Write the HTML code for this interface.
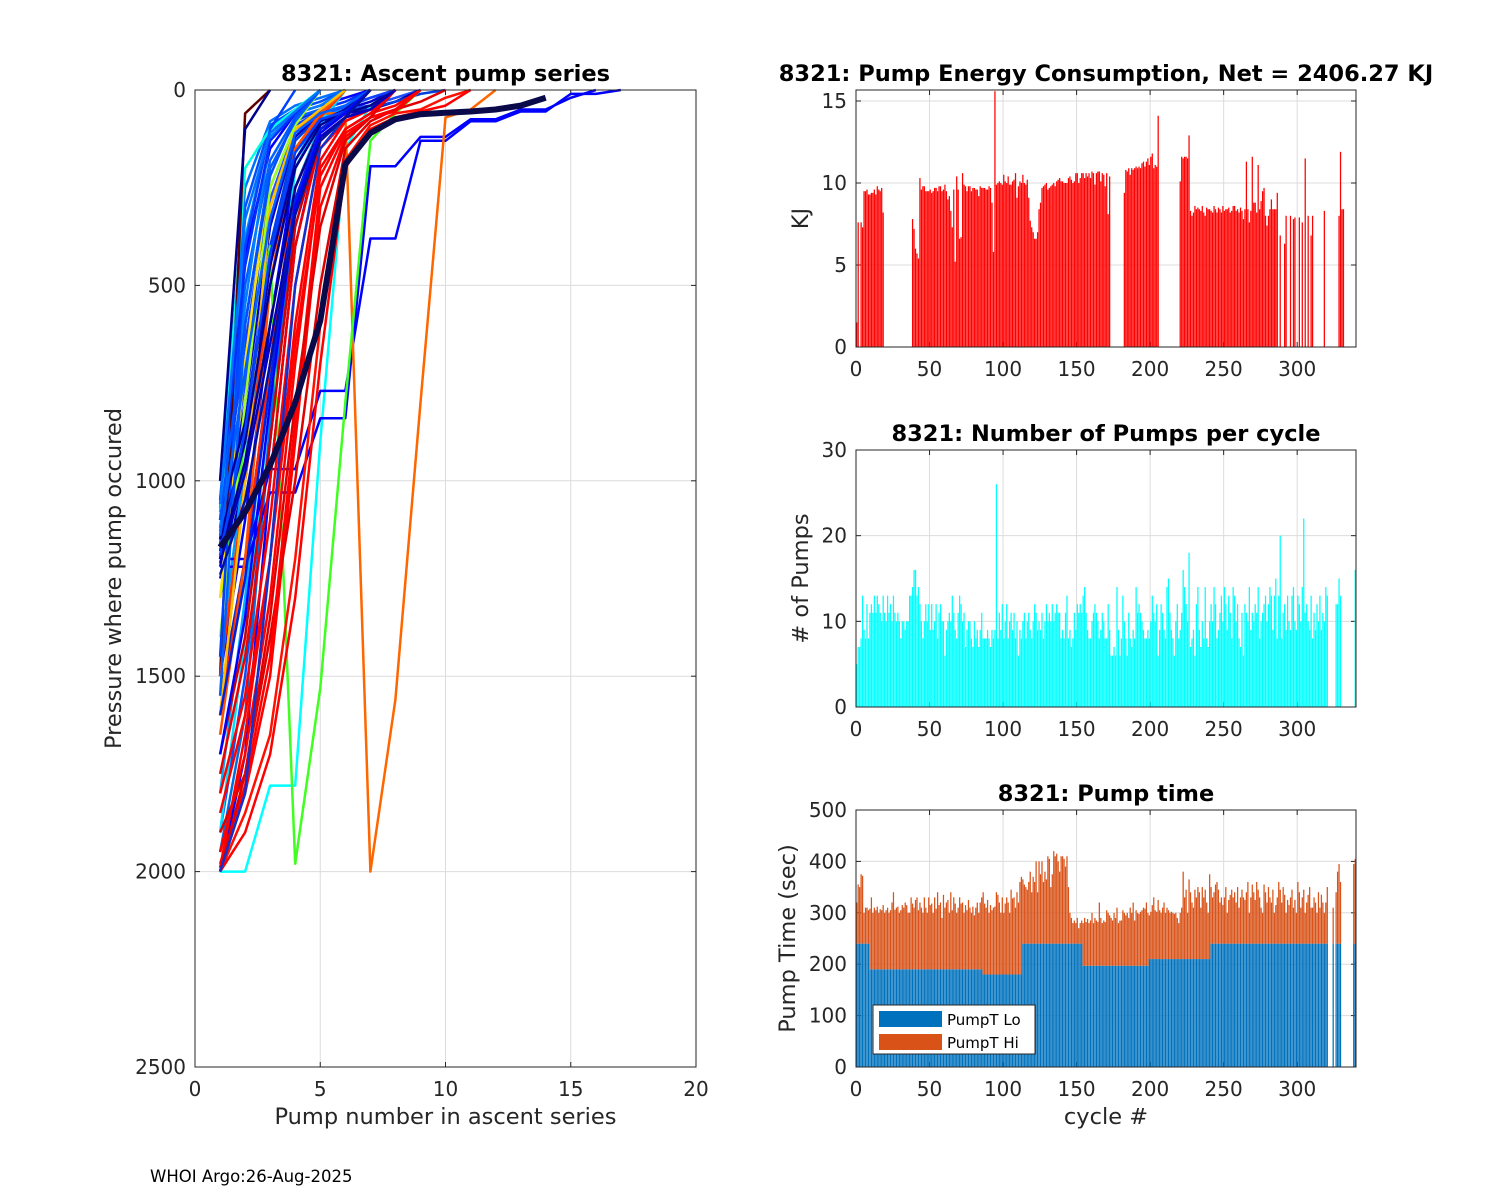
<!DOCTYPE html>
<html><head><meta charset="utf-8"><style>
html,body{margin:0;padding:0;background:#fff;}
svg{display:block;font-family:"DejaVu Sans","Liberation Sans",sans-serif;}
</style></head><body>
<svg id="fig" width="1500" height="1200" viewBox="0 0 1500 1200" xmlns="http://www.w3.org/2000/svg">
<rect width="1500" height="1200" fill="#fff"/>
<g id="ascent"></g>
<g id="energy"></g>
<g id="pumps"></g>
<g id="ptime"></g>
<text x="150" y="1182" font-size="16.5" fill="#000">WHOI Argo:26-Aug-2025</text>
</svg>
<script>
const profiles = [
[1100,420,150,60,40,20,0],[1150,600,200,80,50,30,0],[1050,300,90,50,30,0],[1200,700,300,100,60,40,20,0],
[1000,250,80,40,20,0],[1180,800,350,120,60,50,30,0],[1120,650,250,90,55,45,20,0],[1080,500,180,70,50,0],
[1220,900,450,150,70,50,40,0],[1160,750,280,100,60,50,40,20,0],[1130,550,120,60,40,0],[1070,380,100,55,0],
[1250,1000,500,200,80,60,50,30,0],[1200,850,400,130,65,55,45,30,10,0],[1500,1100,600,200,80,50,0],
[1550,1200,700,250,100,60,40,0],[1450,950,500,180,70,50,0],[1900,1500,900,300,100,60,0],
[2000,1700,1000,400,120,70,50,0],[1950,1600,850,300,100,60,0],[1800,1300,700,250,90,0],
[1900,1400,800,200,80,0],[2000,2000,1780,1780,900,150,40,0],[1100,200,100,50,0],[1500,60,0],
[1200,1200,970,970,770,770,380,380,130,130,80,80,55,55,10,10,0],
[1220,1220,1030,1030,840,840,195,195,120,120,75,75,50,50,20,0],
[1600,1000,300,100,60,60,2000,1560,800,70,50,0],[1300,900,400,1980,1530,800,130,60,0],
[2000,1800,1500,900,300,120,70,50,0],[1950,1700,1300,700,200,100,60,40,0],[1900,1750,1400,1000,500,150,80,50,30,0],
[2000,1850,1650,1200,600,180,90,60,50,20,0],[1800,1550,1100,500,150,80,50,0],[1700,1400,900,350,120,70,0],
[2000,1900,1700,1300,700,200,100,70,55,40,0],[1600,1200,700,250,100,60,0],[1750,1450,1000,400,130,70,50,0],
[1980,1780,1450,850,250,110,70,55,0],[1500,1000,500,150,70,0],[1650,1200,500,150,60,0],
[1600,1000,300,100,50,0],[1300,700,200,80,0],[1400,800,250,90,0],[1550,600,200,80,0],[1450,400,100,0],[1000,100,0],
[1200,950,600,250,100,60,40,0],[1150,900,500,200,90,55,0],[1100,850,450,180,80,50,0],[1990,1650,1200,600,180,80,50,0],
[2000,1750,1350,800,350,130,70,0],[1850,1600,1200,650,220,100,60,0],[1100,600,220,70,0],[1050,450,130,60,0],
[1210,980,650,300,120,70,50,0],[1190,870,420,160,75,55,0],[1140,720,330,110,60,40,0],[1600,1250,750,280,100,55,0],
[1700,1350,800,300,110,60,0],[2000,1800,1200,500,150,70,0],[1240,1050,700,320,130,70,0],[1060,330,110,55,0],
[1170,1080,960,800,590,190,110,75,62,58,55,50,40,20]
];
const profileColors = ["#0000ff","#0030ff","#0050ff","#0020d0","#0070ff","#0000cc","#1040ff","#0060ff","#0000e0","#2050ff",
"#0080ff","#0090ff","#0000b0","#0040e0","#0000ff","#0030d0","#00a0ff","#0050ff","#0000ff","#0070e0",
"#00b0ff","#00e0ff","#00ffff","#00ffe0","#600000","#0000ff","#0000ff","#ff6600","#40ff20",
"#ff0000","#ff0000","#e00000","#ff1000","#ff0000","#d00000","#ff0000","#ff2000","#ee0000","#ff0000","#ff3000","#ff5000",
"#ffc000","#ffe000","#a0ff20","#0060ff","#0040ff","#00008b",
"#00008b","#000090","#0000a0","#ff0000","#e00000","#ff0000","#0050ff","#0030ff",
"#0000c0","#0040ff","#0060ff","#0020e0","#0000ff","#1030d0","#0010a0","#0070ff","#0a0a4a"];

const energy = [
1.5,7.6,0,7.6,7.3,9.5,9.5,9.6,9.3,9.3, 9.4,9.4,9.6,9.3,9.8,9.6,9.5,9.7,8.2,0,
0,0,0,0,0,0,0,0,0,0, 0,0,0,0,0,0,0,0,7.8,7.2,
6.0,5.7,5.4,10.3,9.6,9.8,9.8,9.5,9.5,9.5, 9.6,9.4,9.5,9.7,9.7,9.5,9.8,9.8,9.5,9.6,
9.9,9.5,9.0,9.2,8.3,7.3,9.6,5.2,10.4,9.6, 6.6,6.7,10.6,9.9,9.8,9.5,9.8,9.8,9.5,9.7,
9.7,9.6,9.6,9.2,9.8,9.7,9.7,9.7,9.6,9.6, 9.8,9.7,8.8,5.8,15.6,9.9,10.0,10.1,10.0,9.9,
10.5,10.1,10.0,10.4,9.9,9.9,10.1,10.2,10.6,9.1, 9.8,10.1,10.0,10.5,10.0,9.9,10.2,9.1,7.7,7.3,
7.0,6.6,6.6,7.0,8.4,8.8,9.7,9.8,9.9,10.0, 9.6,9.7,9.8,9.9,10.0,9.8,10.1,10.2,10.3,10.1,
10.1,10.0,10.0,10.0,10.3,10.4,10.2,10.0,10.1,10.6, 10.6,10.0,10.3,10.6,10.6,10.3,10.6,10.4,10.6,10.3,
10.7,10.6,9.9,10.6,10.7,10.7,10.1,10.6,10.5,9.8, 10.6,8.1,10.4,0,0,0,0,0,0,0,
0,0,9.4,10.8,10.7,10.9,10.5,10.9,10.8,10.9, 11.0,10.9,11.0,10.9,11.2,11.3,11.0,11.3,11.5,11.1,
11.6,11.8,10.9,11.1,11.0,14.1,0,0,0,0, 0,0,0,0,0,0,0,0,0,0,
10.1,11.6,11.5,11.6,11.6,11.5,12.9,8.3,8.0,8.2, 8.6,8.4,8.5,8.4,8.3,8.6,8.2,8.0,8.5,8.4,
8.4,8.3,8.2,8.6,8.4,8.2,8.5,8.4,8.2,8.6, 8.3,8.4,8.4,8.5,8.2,8.3,8.6,8.6,8.3,8.4,
8.2,8.5,8.3,7.8,8.4,11.3,8.4,7.6,8.3,11.6, 8.8,8.8,8.2,11.1,8.4,8.9,9.5,9.7,8.0,7.4,
8.0,8.4,9.0,8.4,8.4,8.4,9.4,0,6.8,0, 0,6.3,8.0,0,0,8.0,0,7.8,7.9,0,
0,7.9,0,7.6,0,11.5,0,8.0,0,6.8, 8.0,0,0,0,0,0,0,0,8.3,0,
0,0,0,0,0,0,0,0,8.0,11.9, 8.4,8.4,0,0,0,0,0,0,0,0];

const pumpCount = [
5,7,7,8,13,9,8,12,8,11, 12,11,13,11,13,12,11,10,13,11, 10,13,11,12,10,13,11,10,11,10,
8,10,10,9,10,10,13,13,14,16, 16,13,14,12,10,8,10,12,10,12, 9,12,9,10,12,8,11,12,10,10,
6,9,10,11,10,13,11,9,8,11, 13,12,10,11,7,9,10,10,8,7, 10,8,9,7,9,11,8,8,8,9,
8,7,9,8,9,26,8,11,9,12, 8,10,12,8,10,11,9,11,8,10, 6,9,8,10,11,8,10,11,9,8,
10,12,11,9,10,9,11,8,10,12, 10,11,10,12,10,11,12,11,11,8, 9,8,11,13,8,9,7,8,11,9,
12,11,12,11,13,14,11,9,8,8, 10,11,12,11,10,8,9,11,10,8, 8,12,9,6,6,7,6,14,9,6,
8,13,10,8,6,11,8,7,9,8, 14,11,12,11,10,9,8,8,9,8, 10,13,11,10,12,6,9,12,11,9,
8,14,15,11,9,8,6,10,12,8, 9,11,16,14,12,10,18,7,8,9, 6,12,14,9,7,10,8,14,8,7,
10,12,10,14,12,8,9,11,13,10, 14,12,9,13,11,8,14,13,10,12, 8,7,11,6,12,11,10,14,9,11,
10,12,11,14,8,10,11,12,13,10, 12,14,13,9,13,15,8,13,20,8, 11,12,9,13,10,9,13,14,10,9,
13,12,10,14,22,11,12,10,9,13, 8,11,9,12,10,13,9,11,10,14, 13,0,0,0,0,0,12,12,15,13,
0,0,0,0,0,0,0,0,0,16];

const pumpTotal = [
320,355,350,375,372,300,310,310,305,308, 330,300,310,305,312,300,307,305,315,300,
305,310,300,305,320,340,306,310,312,300, 305,315,310,320,315,300,300,330,318,310,
325,330,305,320,310,300,330,310,300,330, 315,318,300,330,308,340,315,320,290,335,
310,320,325,300,340,305,330,318,300,310, 330,318,320,300,315,305,325,310,300,312,
295,310,320,300,320,330,340,318,310,325, 300,315,305,310,312,340,335,320,300,330,
300,318,330,320,300,345,328,330,310,340, 320,360,370,365,355,350,345,360,380,340,
370,360,400,340,400,375,400,360,380,365, 410,405,350,375,420,410,415,400,380,410,
410,405,390,410,350,300,290,280,285,280, 290,270,280,285,280,290,282,288,280,285,
300,280,290,285,282,320,290,280,285,282, 305,300,295,290,285,300,290,310,280,285,
285,305,300,295,300,290,310,300,320,285, 305,300,298,302,305,310,308,320,300,295,
302,315,330,305,302,325,305,300,310,320, 300,310,305,300,302,300,298,300,290,280,
300,310,380,330,345,300,365,340,320,310, 345,330,350,340,310,350,330,345,320,300,
375,350,330,340,355,360,345,320,330,315, 330,350,300,325,335,345,330,340,320,350,
310,330,345,330,325,340,360,300,330,355, 340,325,360,345,330,310,300,355,340,320,
350,330,320,345,300,315,330,360,345,320, 350,335,300,325,315,330,345,310,325,300,
360,340,310,330,345,300,320,335,350,310, 310,330,320,300,340,310,335,320,300,320,
350,0,0,0,310,0,340,380,395,360, 0,0,0,0,0,0,0,0,395,405];
const loStepStart = [0,9,86,113,154,199,241];
const loStepValue = [240,190,180,240,197,210,240];

const NS="http://www.w3.org/2000/svg";
function mk(tag,attrs,parent){const e=document.createElementNS(NS,tag);for(const k in attrs)e.setAttribute(k,attrs[k]);parent.appendChild(e);return e;}

function axesFrame(g,x0,y0,x1,y1,xt,yt,sx,sy,xlab,ylab,title){
  xt.forEach(v=>{const X=sx(v);
    if(X>x0+1&&X<x1-1){const l=mk('line',{x1:X,x2:X,y1:y0,y2:y1,stroke:'#dcdcdc','stroke-width':1},g);
    }
    mk('line',{x1:X,x2:X,y1:y1,y2:y1-5,stroke:'#262626'},g);mk('line',{x1:X,x2:X,y1:y0,y2:y0+5,stroke:'#262626'},g);
    const t=mk('text',{x:X,y:y1+29,'font-size':20,'text-anchor':'middle',fill:'#262626'},g);t.textContent=v;
    });
  yt.forEach(v=>{const Y=sy(v);
    if(Y>y0+1&&Y<y1-1){const l=mk('line',{x1:x0,x2:x1,y1:Y,y2:Y,stroke:'#dcdcdc','stroke-width':1},g);
    }
    mk('line',{x1:x0,x2:x0+5,y1:Y,y2:Y,stroke:'#262626'},g);mk('line',{x1:x1,x2:x1-5,y1:Y,y2:Y,stroke:'#262626'},g);
    const t=mk('text',{x:x0-9,y:Y+7,'font-size':20,'text-anchor':'end',fill:'#262626'},g);t.textContent=v;
    });
  if(xlab){const t=mk('text',{x:(x0+x1)/2,y:y1+57,'font-size':22.5,'text-anchor':'middle',fill:'#262626'},g);t.textContent=xlab;
    }
  if(ylab.t){const t=mk('text',{x:ylab.x,y:(y0+y1)/2,'font-size':22.5,'text-anchor':'middle',fill:'#262626',transform:`rotate(-90 ${ylab.x} ${(y0+y1)/2})`},g);t.textContent=ylab.t;
    }
  const tt=mk('text',{x:(x0+x1)/2,y:y0-9,'font-size':22.5,'font-weight':'bold','text-anchor':'middle',fill:'#000'},g);tt.textContent=title;
  
}
function frameBox(g,x0,y0,x1,y1){const r=mk('rect',{x:x0,y:y0,width:x1-x0,height:y1-y0,fill:'none',stroke:'#262626','stroke-width':1},g);
  }

(function(){
  const g=document.getElementById('ascent');
  const x0=195,x1=696,y0=90,y1=1067;
  const sx=v=>x0+(v/20)*(x1-x0), sy=v=>y0+(v/2500)*(y1-y0);
  axesFrame(g,x0,y0,x1,y1,[0,5,10,15,20],[0,500,1000,1500,2000,2500],sx,sy,'Pump number in ascent series',{t:'Pressure where pump occured',x:121},'8321: Ascent pump series');
  profiles.forEach((p,i)=>{
    const pts=p.map((v,k)=>sx(k+1).toFixed(1)+','+sy(v).toFixed(1)).join(' ');
    const last=i===profiles.length-1;
    const pl=mk('polyline',{points:pts,fill:'none',stroke:profileColors[i]||'#0000ff','stroke-width':last?6:2.5,'stroke-linejoin':'round'},g);
    
    
  });
  frameBox(g,x0,y0,x1,y1);
})();

function barChart(id,y0,y1,ymax,yt,vals,color,title,ylab,xlab){
  const g=document.getElementById(id);
  const x0=856,x1=1356;
  const sx=v=>x0+(v/340)*(x1-x0), sy=v=>y1-(v/ymax)*(y1-y0);
  axesFrame(g,x0,y0,x1,y1,[0,50,100,150,200,250,300],yt,sx,sy,xlab,{t:ylab,x:808},title);
  const w=(x1-x0)/340*0.85;
  vals.forEach((v,c)=>{ if(v<=0)return; const top=Math.max(sy(v),y0);
    const r=mk('rect',{x:(sx(c)-w/2+0.7).toFixed(2),y:top.toFixed(2),width:w.toFixed(2),height:(y1-top).toFixed(2),fill:color},g);
    });
  frameBox(g,x0,y0,x1,y1);
}
barChart('energy',90,347,15.67,[0,5,10,15],energy,'#ff0000','8321: Pump Energy Consumption,  Net = 2406.27 KJ','KJ','');
barChart('pumps',450,707,30,[0,10,20,30],pumpCount,'#00ffff','8321: Number of Pumps per cycle','# of Pumps','');

(function(){
  const g=document.getElementById('ptime');
  const x0=856,x1=1356,y0=810,y1=1067;
  const sx=v=>x0+(v/340)*(x1-x0), sy=v=>y1-(v/500)*(y1-y0);
  axesFrame(g,x0,y0,x1,y1,[0,50,100,150,200,250,300],[0,100,200,300,400,500],sx,sy,'cycle #',{t:'Pump Time (sec)',x:795},'8321: Pump time');
  const w=(x1-x0)/340*0.85;
  pumpTotal.forEach((tot,c)=>{ if(tot<=0)return;
    let lo=loStepValue[0]; loStepStart.forEach((s,k)=>{if(c>=s)lo=loStepValue[k];});
    lo=Math.min(lo,tot);
    const x=(sx(c)-w/2+0.7).toFixed(2);
    const r1=mk('rect',{x:x,y:sy(lo).toFixed(2),width:w.toFixed(2),height:(y1-sy(lo)).toFixed(2),fill:'#0072bd'},g);
    
    const r2=mk('rect',{x:x,y:sy(tot).toFixed(2),width:w.toFixed(2),height:(sy(lo)-sy(tot)).toFixed(2),fill:'#d95319'},g);
    
  });
  frameBox(g,x0,y0,x1,y1);
  const lg=mk('g',{},g);
  mk('rect',{x:873,y:1005,width:162,height:49,fill:'#fff',stroke:'#262626'},lg);
  mk('rect',{x:879,y:1011,width:63,height:16,fill:'#0072bd'},lg);
  mk('rect',{x:879,y:1034,width:63,height:16,fill:'#d95319'},lg);
  const t1=mk('text',{x:947,y:1025,'font-size':15,fill:'#000'},lg);t1.textContent='PumpT Lo';
  
  const t2=mk('text',{x:947,y:1048,'font-size':15,fill:'#000'},lg);t2.textContent='PumpT Hi';
  
})();
</script>
</body></html>
